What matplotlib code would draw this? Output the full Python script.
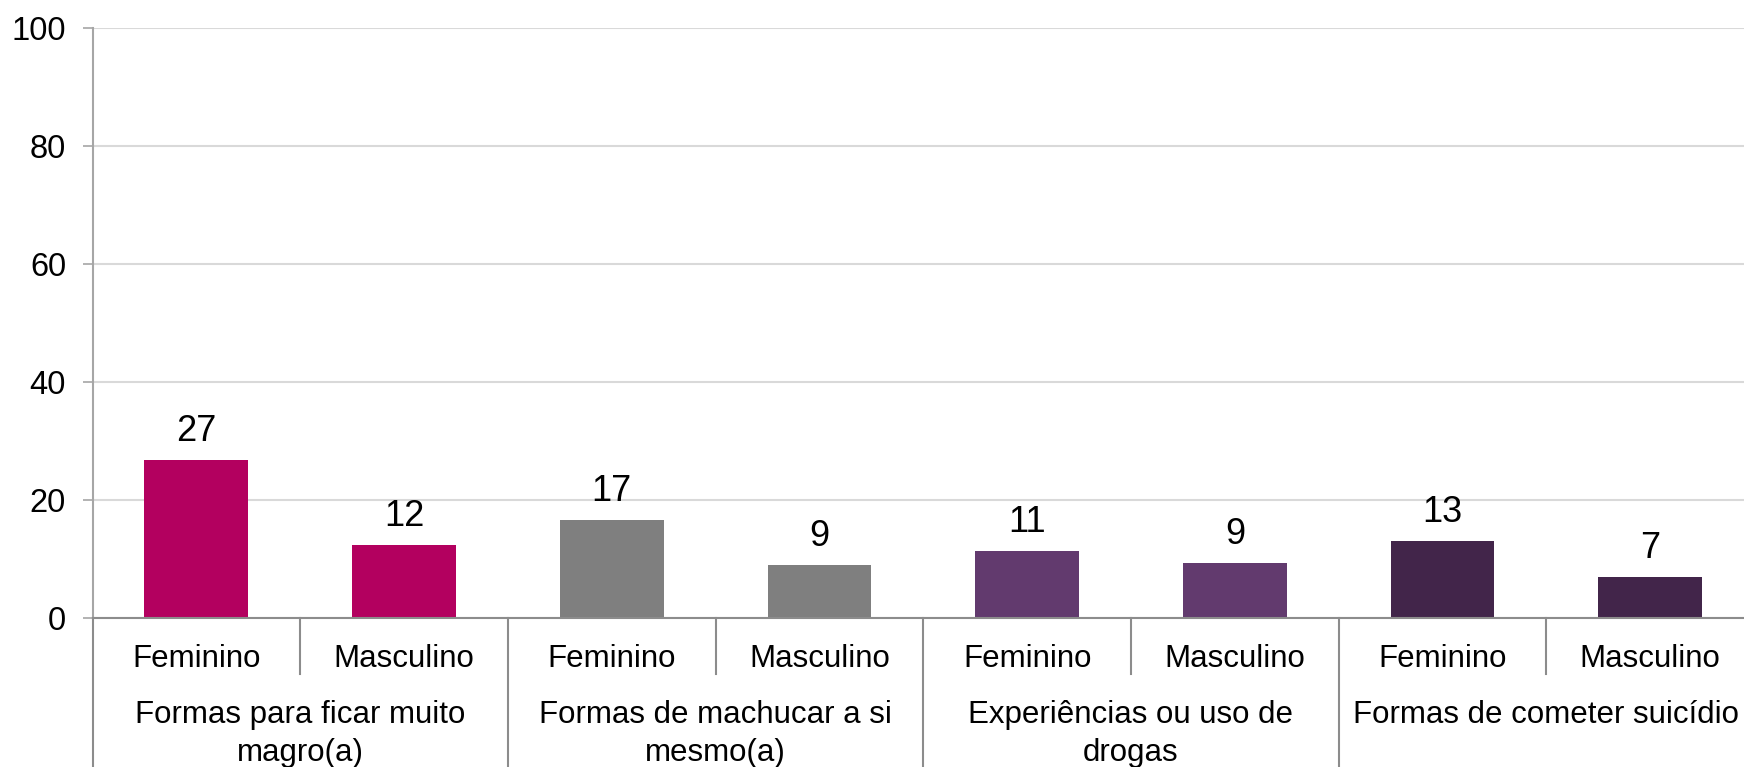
import matplotlib
matplotlib.use("Agg")
import matplotlib.pyplot as plt

plt.rcParams['font.family'] = ['Liberation Sans', 'DejaVu Sans']

# data
groups = ["Formas para ficar muito\nmagro(a)", "Formas de machucar a si\nmesmo(a)",
          "Experiências ou uso de\ndrogas", "Formas de cometer suicídio"]
sexes = ["Feminino", "Masculino"]
values = [26.7, 12.3, 16.6, 8.9, 11.4, 9.4, 13.0, 6.9]
labels = [27, 12, 17, 9, 11, 9, 13, 7]
group_colors = ["#B3005F", "#7F7F7F", "#623A6E", "#42254A"]

W, H = 1744, 767
fig = plt.figure(figsize=(W / 100, H / 100), dpi=100)
# axes runs slightly past the right edge, as in the original
ax = fig.add_axes([92.5 / W, (H - 618) / H, 8 * 207.7 / W, (618 - 27.8) / H])

xs = list(range(len(values)))
colors = [group_colors[i // 2] for i in xs]
ax.bar(xs, values, width=0.5, color=colors, zorder=3)

for x, v, lab in zip(xs, values, labels):
    ax.annotate(str(lab), xy=(x, v), xytext=(0, 19), textcoords='offset pixels',
                ha='center', va='baseline', fontsize=26)

ax.set_xlim(-0.5, 7.5)
ax.set_ylim(0, 100)
ax.set_yticks(range(0, 101, 20))
ax.set_xticks([])
ax.tick_params(axis='y', labelsize=23.5, length=7, width=1.2, color='#A6A6A6', pad=12)
ax.yaxis.grid(True, color='#D9D9D9', linewidth=1.5, zorder=0)
ax.set_axisbelow(True)

for s in ['top', 'right']:
    ax.spines[s].set_visible(False)
ax.spines['left'].set_color('#A6A6A6')
ax.spines['left'].set_linewidth(1.5)
ax.spines['bottom'].set_color('#8C8C8C')
ax.spines['bottom'].set_linewidth(1.5)
ax.spines['bottom'].set_zorder(4)

# category table under the axis
axh = 618 - 27.8
trans = ax.get_xaxis_transform()
for i in range(len(values) + 1):
    x = i - 0.5
    ybot = -56 / axh if i % 2 == 1 else -160 / axh
    ax.plot([x, x], [0, ybot], transform=trans, color='#8C8C8C', lw=1.5, clip_on=False)

for x in xs:
    ax.annotate(sexes[x % 2], xy=(x, 0), xytext=(0, -41), textcoords='offset pixels',
                ha='center', va='center', fontsize=22.5)

for g, name in enumerate(groups):
    ax.annotate(name, xy=(2 * g + 0.5, 0), xytext=(0, -82), textcoords='offset pixels',
                ha='center', va='top', fontsize=22.5, linespacing=1.33,
                annotation_clip=False)

fig.savefig("out.png", dpi=100)
